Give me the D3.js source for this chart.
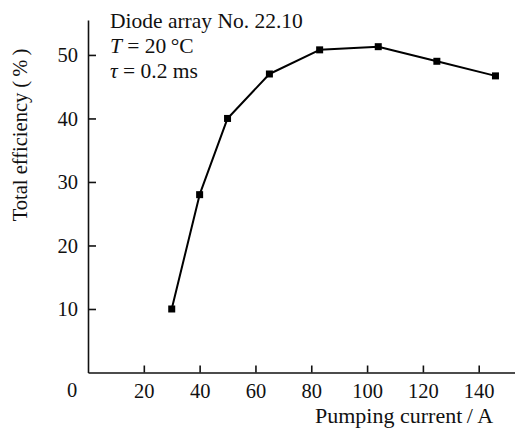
<!DOCTYPE html>
<html>
<head>
<meta charset="utf-8">
<title>Total efficiency</title>
<style>
  body { margin: 0; background: white; }
  svg text { font-family: "Liberation Serif", "DejaVu Serif", serif; fill: #111; }
</style>
</head>
<body>
<div class="chart"></div>
<script src="https://d3js.org/d3.v7.min.js"></script>
<script>
// pumping current (A) and total efficiency (%)
var current = [30, 40, 50, 65, 83, 104, 125, 146];
var efficiency = [10, 28, 40, 47, 50.8, 51.3, 49, 46.7];
var xTicks = [20, 40, 60, 80, 100, 120, 140];
var yTicks = [10, 20, 30, 40, 50];
var notes = ["Diode array No. 22.10", "T = 20\u2009\u00b0C", "\u03c4 = 0.2 ms"];

var width = 515, height = 430;
var serif = "'Liberation Serif', 'DejaVu Serif', serif";

var svg = d3.select(".chart").append("svg")
    .attr("width", width)
    .attr("height", height);

var x = d3.scaleLinear().domain([0, 153]).range([88, 515]);
var y = d3.scaleLinear().domain([0, 55.5]).range([372.5, 20]);

// x axis, ticks pointing up
var xAxis = d3.axisBottom(x)
    .tickValues(xTicks)
    .tickSizeInner(-7)
    .tickSizeOuter(0)
    .tickPadding(11)
    .tickFormat(d3.format("d"));

var gx = svg.append("g")
    .attr("transform", "translate(0," + y(0) + ")")
    .call(xAxis);

// y axis, ticks pointing right
var yAxis = d3.axisLeft(y)
    .tickValues(yTicks)
    .tickSizeInner(-8)
    .tickSizeOuter(0)
    .tickPadding(10)
    .tickFormat(d3.format("d"));

var gy = svg.append("g")
    .attr("transform", "translate(" + x(0) + ",0)")
    .call(yAxis);

[gx, gy].forEach(function(g){
    g.attr("font-family", null).attr("font-size", null);
    g.select(".domain").attr("stroke", "#111").attr("stroke-width", 1.6);
    g.selectAll(".tick line").attr("stroke", "#111").attr("stroke-width", 1.6);
    g.selectAll(".tick text")
        .style("font-family", serif)
        .style("font-size", "20.5px")
        .attr("fill", "#111");
});

// lone origin label
svg.append("text")
    .attr("x", 72)
    .attr("y", 397)
    .attr("text-anchor", "middle")
    .style("font-size", "20.5px")
    .text("0");

// axis titles
svg.append("text")
    .attr("x", 315)
    .attr("y", 423)
    .style("font-size", "22px")
    .text("Pumping current\u2009/\u2009A");

svg.append("text")
    .attr("transform", "translate(27,135) rotate(-90)")
    .attr("text-anchor", "middle")
    .style("font-size", "20.5px")
    .text("Total efficiency (\u2009%\u2009)");

// curve
var pts = current.map(function(c, i){ return [c, efficiency[i]]; });

svg.append("path")
    .datum(pts)
    .attr("fill", "none")
    .attr("stroke", "#000")
    .attr("stroke-width", 2)
    .attr("stroke-linejoin", "round")
    .attr("d", d3.line()
        .x(function(d){ return x(d[0]); })
        .y(function(d){ return y(d[1]); }));

svg.selectAll("rect.mark")
    .data(pts)
    .enter().append("rect")
    .attr("class", "mark")
    .attr("x", function(d){ return x(d[0]) - 3.5; })
    .attr("y", function(d){ return y(d[1]) - 3.5; })
    .attr("width", 7)
    .attr("height", 7)
    .attr("fill", "#000");

// annotation block
var note = svg.append("text")
    .attr("x", 110)
    .attr("y", 28)
    .style("font-size", "21.5px");

note.append("tspan").attr("x", 110).attr("dy", 0).text(notes[0]);

var l2 = note.append("tspan").attr("x", 110).attr("dy", 25);
l2.append("tspan").attr("font-style", "italic").text("T");
l2.append("tspan").text(notes[1].slice(1));

var l3 = note.append("tspan").attr("x", 110).attr("dy", 25);
l3.append("tspan").attr("font-style", "italic").text("\u03c4");
l3.append("tspan").text(notes[2].slice(1));
</script>
</body>
</html>
